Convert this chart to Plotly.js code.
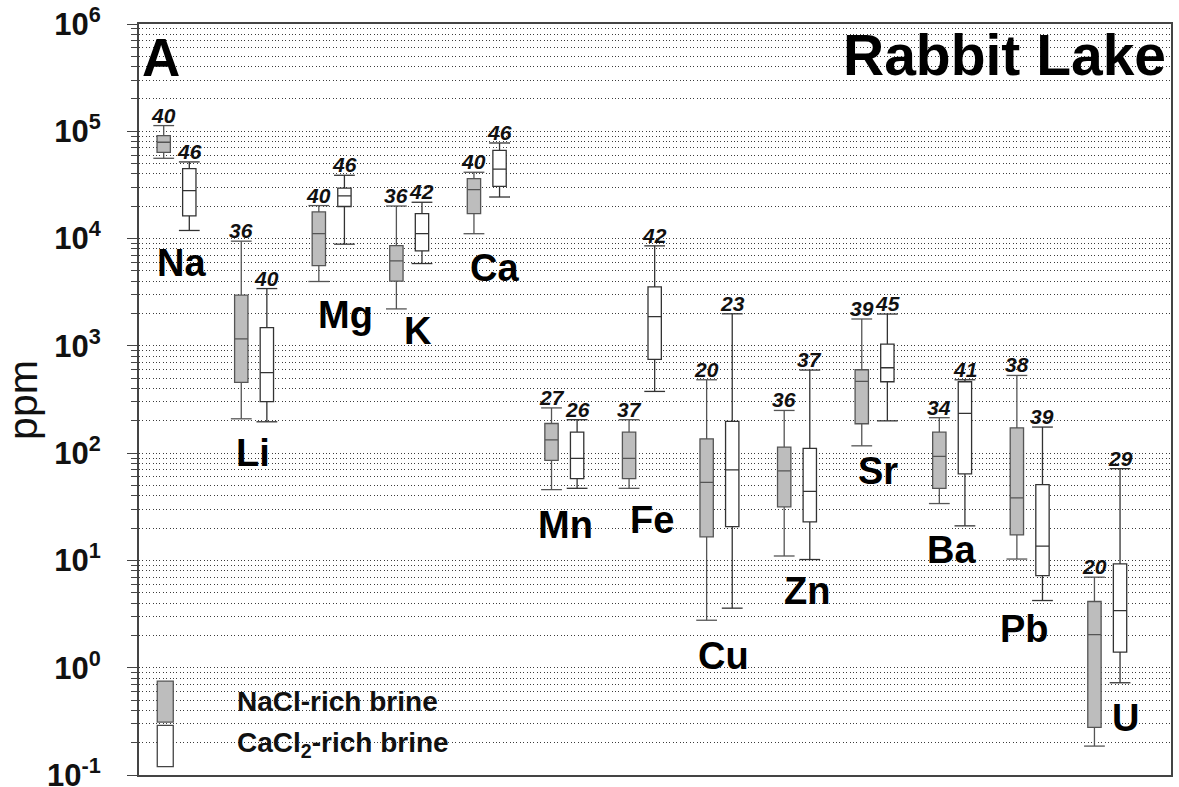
<!DOCTYPE html>
<html>
<head>
<meta charset="utf-8">
<script src="https://cdn.plot.ly/plotly-3.0.1.min.js"></script>
<style>
  html, body { margin: 0; padding: 0; background: #ffffff; }
  #chart { width: 1179px; height: 787px; }
</style>
</head>
<body>
<div id="chart"></div>
<script>
// Elements, in plotting order
const elements = ['Na', 'Li', 'Mg', 'K', 'Ca', 'Mn', 'Fe', 'Cu', 'Zn', 'Sr', 'Ba', 'Pb', 'U'];

// NaCl-rich brine: box statistics in ppm
const naclUpper  = [113000, 9460, 20300, 20100, 41500, 264, 205, 483, 250, 1780, 214, 530, 6.98];
const naclQ3     = [91000, 2970, 17700, 8600, 36200, 189, 157, 136, 114, 599, 157, 172, 4.14];
const naclMedian = [79000, 1160, 11100, 6200, 28600, 133, 89.5, 53.5, 68.3, 466, 93.3, 38.3, 2.03];
const naclQ1     = [63700, 456, 5600, 4010, 17100, 85.7, 57.9, 16.6, 31.6, 188, 47, 17.3, 0.278];
const naclLower  = [56000, 209, 3980, 2210, 11100, 45.7, 47, 2.77, 11.0, 117, 33.9, 10.3, 0.186];
const naclN      = [40, 36, 40, 36, 40, 27, 37, 20, 36, 39, 34, 38, 20];

// CaCl2-rich brine: box statistics in ppm
const caclUpper  = [51800, 3420, 38900, 21800, 77800, 205, 8550, 1990, 595, 1980, 483, 175, 71.7];
const caclQ3     = [44900, 1480, 29500, 17100, 66500, 157, 3550, 198, 111, 1040, 463, 50.9, 9.3];
const caclMedian = [28000, 562, 25000, 11100, 44300, 89.5, 1870, 69.8, 44.1, 625, 235, 13.6, 3.40];
const caclQ1     = [16300, 302, 19900, 7680, 30700, 57.9, 747, 20.7, 22.9, 463, 64, 7.23, 1.40];
const caclLower  = [11900, 196, 8870, 5850, 24400, 47, 376, 3.59, 10.2, 200, 21, 4.23, 0.724];
const caclN      = [46, 40, 46, 42, 46, 26, 42, 23, 37, 45, 41, 39, 29];

// Axis ticks
const decadeVals = [0.1, 1, 10, 100, 1000, 10000, 100000, 1000000];
const decadeText = ['10<sup>-1</sup>', '10<sup>0</sup>', '10<sup>1</sup>', '10<sup>2</sup>',
                    '10<sup>3</sup>', '10<sup>4</sup>', '10<sup>5</sup>', '10<sup>6</sup>'];

// Layout helpers (positions, not data)
const pairOffset = 0.165;   // half distance between the two boxes of an element
const boxWidth = 0.172;     // box width in x units
const capHalf = 0.134;      // half width of whisker caps
// element label placement: x in group units, y in log10(ppm)
const labelX = [0.067, 0.98, 2.173, 3.114, 4.094, 5.009, 6.127, 7.05, 8.129, 9.045, 9.998, 10.927, 12.236];
const labelY = [3.774, 2.005, 3.290, 3.134, 3.727, 1.334, 1.381, 0.108, 0.713, 1.831, 1.101, 0.357, -0.466];

const idx = elements.map((_, i) => i);
const naclX = idx.map(i => i - pairOffset);
const caclX = idx.map(i => i + pairOffset);

const FONT = 'Liberation Sans, Arial, sans-serif';

function boxTrace(name, xs, lo, q1, med, q3, hi, fill, line) {
  return {
    type: 'box', name: name, x: xs,
    lowerfence: lo, q1: q1, median: med, q3: q3, upperfence: hi,
    width: boxWidth, whiskerwidth: 0, boxpoints: false,
    fillcolor: fill, line: { color: line, width: 1.3 },
    hoverinfo: 'skip', showlegend: false
  };
}

function capTrace(xs, lo, hi, color) {
  const cx = [], cy = [];
  xs.forEach((x, i) => {
    cx.push(x - capHalf, x + capHalf, null, x - capHalf, x + capHalf, null);
    cy.push(hi[i], hi[i], null, lo[i], lo[i], null);
  });
  return {
    type: 'scatter', mode: 'lines', x: cx, y: cy,
    line: { color: color, width: 1.3 }, hoverinfo: 'skip', showlegend: false,
    connectgaps: false
  };
}

const traces = [
  boxTrace('NaCl-rich brine', naclX, naclLower, naclQ1, naclMedian, naclQ3, naclUpper, '#bdbdbd', '#555555'),
  boxTrace('CaCl2-rich brine', caclX, caclLower, caclQ1, caclMedian, caclQ3, caclUpper, '#ffffff', '#333333'),
  capTrace(naclX, naclLower, naclUpper, '#555555'),
  capTrace(caclX, caclLower, caclUpper, '#333333')
];

const annotations = [];
// sample counts above the upper whiskers
function addCounts(xs, hi, ns) {
  xs.forEach((x, i) => {
    annotations.push({
      x: x, y: Math.log10(hi[i]), xref: 'x', yref: 'y',
      text: String(ns[i]), showarrow: false, yanchor: 'bottom', yshift: -3,
      font: { family: FONT, size: 21, color: '#111111', weight: 'bold', style: 'italic' }
    });
  });
}
addCounts(naclX, naclUpper, naclN);
addCounts(caclX, caclUpper, caclN);

// element names
elements.forEach((el, i) => {
  annotations.push({
    x: labelX[i], y: labelY[i], xref: 'x', yref: 'y', text: el, showarrow: false,
    xanchor: 'center', yanchor: 'middle',
    font: { family: FONT, size: 38, color: '#000000', weight: 'bold' }
  });
});

// panel letter and site name
annotations.push({
  x: 0.0213, y: 0.955, xref: 'paper', yref: 'paper', text: 'A', showarrow: false,
  xanchor: 'center', yanchor: 'middle',
  font: { family: FONT, size: 53, color: '#000000', weight: 'bold' }
});
annotations.push({
  x: 0.997, y: 0.959, xref: 'paper', yref: 'paper', text: 'Rabbit Lake', showarrow: false,
  xanchor: 'right', yanchor: 'middle',
  font: { family: FONT, size: 57, color: '#000000', weight: 'bold' }
});

// axis title
annotations.push({
  x: -0.113, y: 0.5, xref: 'paper', yref: 'paper', text: 'ppm', showarrow: false,
  textangle: -90, xanchor: 'center', yanchor: 'middle',
  font: { family: FONT, size: 41, color: '#111111' }
});

// legend text
annotations.push({
  x: 0.0935, y: 0.0984, xref: 'paper', yref: 'paper', text: 'NaCl-rich brine', showarrow: false,
  xanchor: 'left', yanchor: 'middle',
  font: { family: FONT, size: 28, color: '#111111', weight: 'bold' }
});
annotations.push({
  x: 0.0935, y: 0.0408, xref: 'paper', yref: 'paper', text: 'CaCl<sub>2</sub>-rich brine', showarrow: false,
  xanchor: 'left', yanchor: 'middle',
  font: { family: FONT, size: 28, color: '#111111', weight: 'bold' }
});

// legend swatches
const shapes = [
  { type: 'rect', xref: 'paper', yref: 'paper', x0: 0.0177, x1: 0.0332, y0: 0.0705, y1: 0.1251,
    fillcolor: '#bdbdbd', line: { color: '#555555', width: 1.3 } },
  { type: 'rect', xref: 'paper', yref: 'paper', x0: 0.0177, x1: 0.0332, y0: 0.0112, y1: 0.0661,
    fillcolor: '#ffffff', line: { color: '#444444', width: 1.3 } }
];

const minorVals = [];
for (let e = -1; e <= 5; e++) {
  for (let k = 2; k <= 9; k++) minorVals.push(k * Math.pow(10, e));
}

const GRID = '#3c3c3c';
const GRID_DASH = '1px,2.4px';

const layout = {
  width: 1179, height: 787,
  margin: { l: 139, r: 8, t: 24, b: 12 },
  paper_bgcolor: '#ffffff', plot_bgcolor: '#ffffff',
  boxmode: 'overlay', showlegend: false,
  font: { family: FONT },
  xaxis: {
    type: 'linear', range: [-0.4835, 12.822],
    showticklabels: false, ticks: '', showgrid: false, zeroline: false,
    showline: true, mirror: true, linecolor: '#444444', linewidth: 2
  },
  yaxis: {
    type: 'log', range: [-1, 6],
    tickmode: 'array', tickvals: decadeVals, ticktext: decadeText,
    ticks: 'outside', ticklen: 10, tickwidth: 1, tickcolor: '#444444',
    ticklabelstandoff: 20, ticklabeloverflow: 'allow',
    tickfont: { family: FONT, size: 31, color: '#111111', weight: 'bold' },
    showgrid: true, gridcolor: GRID, gridwidth: 1, griddash: GRID_DASH,
    minor: {
      tickmode: 'array', tickvals: minorVals, ticks: 'outside', ticklen: 6,
      tickcolor: '#444444', tickwidth: 1,
      showgrid: true, gridcolor: GRID, gridwidth: 1, griddash: GRID_DASH
    },
    zeroline: false, showline: true, mirror: true, linecolor: '#444444', linewidth: 2
  },
  annotations: annotations,
  shapes: shapes
};

Plotly.newPlot('chart', traces, layout, { staticPlot: true, displayModeBar: false });
</script>
</body>
</html>
